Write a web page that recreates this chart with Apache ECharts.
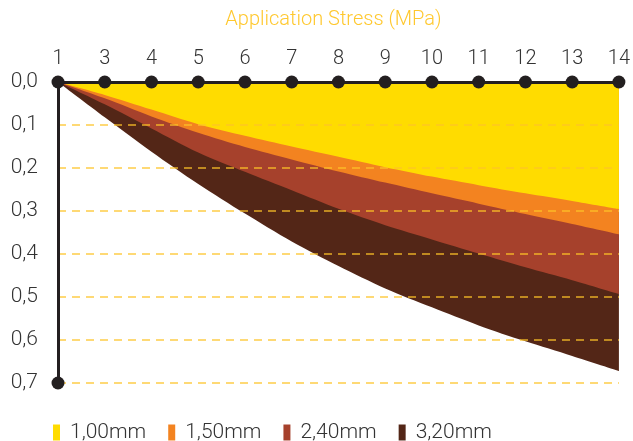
<!DOCTYPE html>
<html>
<head>
<meta charset="utf-8">
<script src="https://cdn.jsdelivr.net/npm/echarts@6/dist/echarts.min.js"></script>
<style>
html,body{margin:0;padding:0;background:#fff;}
#c{width:633px;height:441px;}
</style>
</head>
<body>
<div id="c"></div>
<script>
// Application stress (MPa) categories
var categories = ['1','3','4','5','6','7','8','9','10','11','12','13','14'];
// deformation per thickness
var s100 = [0, 0.030, 0.064, 0.098, 0.125, 0.150, 0.174, 0.198, 0.220, 0.240, 0.259, 0.277, 0.296];
var s150 = [0, 0.038, 0.080, 0.118, 0.151, 0.180, 0.208, 0.234, 0.259, 0.283, 0.307, 0.330, 0.354];
var s240 = [0, 0.052, 0.108, 0.164, 0.209, 0.252, 0.295, 0.333, 0.366, 0.399, 0.431, 0.461, 0.493];
var s320 = [0, 0.082, 0.162, 0.237, 0.306, 0.371, 0.428, 0.480, 0.524, 0.566, 0.603, 0.637, 0.672];
var seriesNames = ['1,00mm','1,50mm','2,40mm','3,20mm'];
var yMin = 0, yMax = 0.7, yStep = 0.1;

var FONT = 'Roboto';
var colors = ['#FFDC00','#F38320','#A6412C','#532617'];
var allSeries = [s100, s150, s240, s320];

var series = [];
for (var i = allSeries.length - 1; i >= 0; i--) {
  series.push({
    name: seriesNames[i],
    type: 'line',
    data: allSeries[i],
    smooth: 0.3,
    showSymbol: false,
    symbol: 'none',
    lineStyle: {width: 0},
    areaStyle: {color: colors[i], opacity: 1},
    itemStyle: {color: colors[i]},
    z: 2,
    silent: true
  });
}
// axis dots
var dots = categories.map(function(c){ return [c, yMin]; });
dots.push([categories[0], yMax]);
series.push({
  type: 'scatter',
  data: dots,
  symbol: 'circle',
  symbolSize: 13,
  itemStyle: {color: '#231F20', opacity: 1},
  z: 10,
  silent: true
});

var chart = echarts.init(document.getElementById('c'), null, {renderer: 'canvas'});
chart.setOption({
  animation: false,
  backgroundColor: '#fff',
  color: colors,
  grid: {left: 58, right: 11, top: 82, bottom: 58, containLabel: false},
  legend: {
    data: seriesNames,
    left: 48,
    top: 417,
    icon: 'rect',
    itemWidth: 7,
    itemHeight: 16,
    itemGap: 22,
    textStyle: {fontFamily: FONT, fontSize: 21, fontWeight: 300, color: '#333', padding: [0,0,0,5]}
  },
  xAxis: {
    type: 'category',
    position: 'top',
    data: categories,
    boundaryGap: false,
    name: 'Application Stress (MPa)',
    nameLocation: 'middle',
    nameGap: 52,
    nameTextStyle: {fontFamily: FONT, fontSize: 20, fontWeight: 300, color: '#FFC82E', padding: [0,10,0,0]},
    axisLine: {show: true, lineStyle: {color: '#231F20', width: 3}},
    axisTick: {show: false},
    axisLabel: {fontFamily: FONT, fontSize: 20, fontWeight: 300, color: '#333', margin: 13, interval: 0},
    splitLine: {show: false},
    z: 6
  },
  yAxis: {
    type: 'value',
    inverse: true,
    min: yMin,
    max: yMax,
    interval: yStep,
    axisLine: {show: true, lineStyle: {color: '#231F20', width: 3}},
    axisTick: {show: false},
    axisLabel: {
      fontFamily: FONT, fontSize: 21, fontWeight: 300, color: '#333', margin: 20,
      formatter: function(v){ return v.toFixed(1).replace('.', ','); }
    },
    splitLine: {show: true, lineStyle: {color: 'rgba(253,196,40,0.85)', width: 1.5, type: [8,6]}},
    z: 5
  },
  series: series
});
</script>
</body>
</html>
